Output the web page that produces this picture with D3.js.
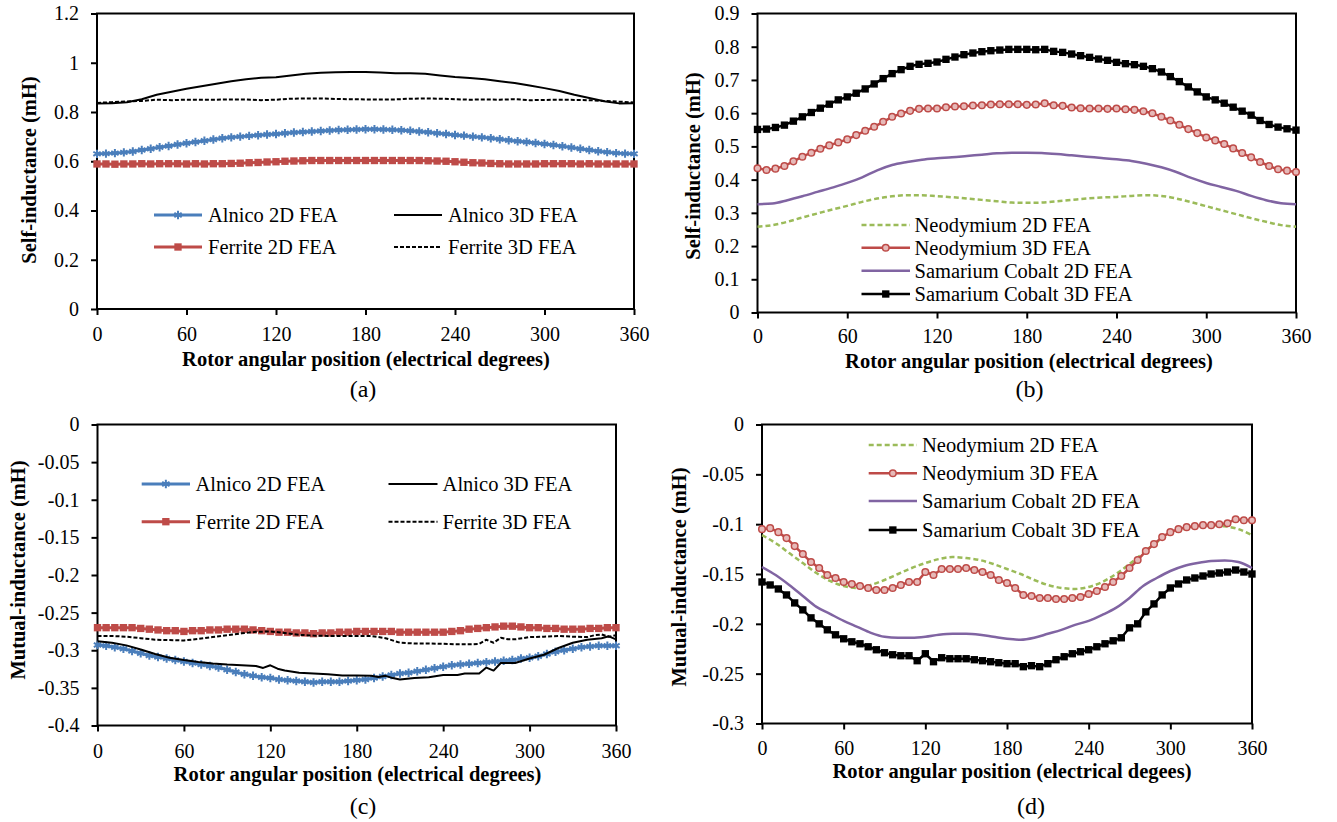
<!DOCTYPE html>
<html><head><meta charset="utf-8">
<script src="https://cdn.jsdelivr.net/npm/d3@7"></script>
<style>body{margin:0;background:#fff} svg{display:block} svg text{font-family:"Liberation Serif","Times New Roman",serif}</style>
</head><body><svg id="c" width="1337" height="822"></svg>
<script>
// ---------- DATA ----------
const angles6 = d3.range(0, 361, 6);
const angles10 = d3.range(0, 361, 10);
const xTicks = [0, 60, 120, 180, 240, 300, 360];
const xTickLabels = ["0", "60", "120", "180", "240", "300", "360"];

// (a) self-inductance, Alnico / Ferrite
const aAlnico2D = [0.630,0.631,0.633,0.636,0.640,0.646,0.651,0.657,0.662,0.668,
0.673,0.678,0.683,0.688,0.693,0.697,0.700,0.703,0.706,0.709,
0.711,0.714,0.717,0.719,0.721,0.723,0.725,0.727,0.728,0.729,
0.730,0.730,0.729,0.728,0.726,0.724,0.721,0.718,0.714,0.711,
0.707,0.704,0.700,0.697,0.693,0.689,0.685,0.681,0.678,0.674,
0.670,0.666,0.661,0.656,0.651,0.646,0.641,0.637,0.633,0.631,0.630];
const aFerrite2D = [0.589,0.589,0.588,0.589,0.589,0.590,0.589,0.590,0.590,0.590,
0.589,0.590,0.589,0.590,0.590,0.591,0.592,0.594,0.595,0.597,
0.598,0.600,0.601,0.602,0.603,0.603,0.603,0.603,0.603,0.603,
0.603,0.603,0.603,0.603,0.603,0.603,0.603,0.602,0.601,0.600,
0.598,0.596,0.594,0.593,0.591,0.590,0.589,0.589,0.589,0.589,
0.590,0.590,0.590,0.590,0.589,0.590,0.589,0.589,0.589,0.589,0.589];
const aAlnico3D = [0.835,0.836,0.840,0.852,0.870,0.882,0.894,0.905,0.915,0.925,0.933,0.939,0.941,
0.948,0.955,0.959,0.961,0.962,0.962,0.960,0.957,0.957,0.955,0.948,0.942,0.938,0.933,0.925,0.918,
0.908,0.897,0.885,0.870,0.857,0.844,0.835,0.836];
const aFerrite3D = [0.837,0.840,0.843,0.845,0.850,0.848,0.850,0.850,0.850,0.851,0.851,0.848,0.850,
0.854,0.855,0.855,0.853,0.852,0.851,0.851,0.851,0.854,0.855,0.854,0.852,0.850,0.851,0.850,0.852,
0.848,0.849,0.850,0.849,0.848,0.845,0.842,0.839];
const aYTicks = [0, 0.2, 0.4, 0.6, 0.8, 1, 1.2];
const aYTickLabels = ["0", "0.2", "0.4", "0.6", "0.8", "1", "1.2"];

// (b) self-inductance, Neodymium / Samarium Cobalt
const bNd2D = [0.258,0.263,0.273,0.286,0.298,0.310,0.321,0.333,0.343,0.350,0.353,0.353,0.350,
0.347,0.343,0.339,0.335,0.331,0.330,0.331,0.335,0.339,0.343,0.346,0.348,0.351,0.353,0.351,0.343,
0.332,0.320,0.308,0.296,0.284,0.273,0.263,0.258];
const bNd3D = [0.434,0.429,0.433,0.441,0.455,0.469,0.481,0.493,0.503,0.512,
0.521,0.534,0.547,0.559,0.574,0.589,0.599,0.607,0.613,0.614,
0.614,0.618,0.620,0.621,0.623,0.624,0.626,0.627,0.627,0.627,
0.625,0.626,0.630,0.624,0.622,0.617,0.615,0.614,0.614,0.613,
0.614,0.612,0.610,0.606,0.600,0.589,0.578,0.565,0.552,0.540,
0.527,0.518,0.507,0.494,0.480,0.467,0.453,0.441,0.431,0.427,0.423];
const bSmCo2D = [0.326,0.328,0.338,0.350,0.363,0.376,0.390,0.407,0.428,0.444,0.453,0.460,0.464,
0.467,0.471,0.475,0.479,0.481,0.481,0.480,0.477,0.473,0.469,0.465,0.461,0.456,0.448,0.437,0.423,
0.405,0.390,0.378,0.366,0.351,0.338,0.329,0.326];
const bSmCo3D = [0.551,0.552,0.557,0.564,0.576,0.589,0.602,0.615,0.627,0.640,
0.649,0.660,0.673,0.688,0.704,0.719,0.731,0.741,0.747,0.750,
0.754,0.762,0.769,0.776,0.781,0.785,0.788,0.790,0.792,0.792,
0.792,0.791,0.792,0.786,0.783,0.778,0.773,0.768,0.763,0.759,
0.753,0.749,0.746,0.741,0.734,0.724,0.710,0.695,0.679,0.664,
0.649,0.640,0.630,0.618,0.606,0.594,0.578,0.566,0.558,0.553,0.549];
const bYTicks = [0, 0.1, 0.2, 0.3, 0.4, 0.5, 0.6, 0.7, 0.8, 0.9];
const bYTickLabels = ["0", "0.1", "0.2", "0.3", "0.4", "0.5", "0.6", "0.7", "0.8", "0.9"];

// (c) mutual-inductance, Alnico / Ferrite
const cAlnico2D = [-0.293,-0.294,-0.296,-0.298,-0.301,-0.304,-0.307,-0.309,-0.311,-0.313,
-0.315,-0.317,-0.319,-0.321,-0.323,-0.326,-0.329,-0.332,-0.334,-0.336,
-0.337,-0.339,-0.340,-0.341,-0.342,-0.343,-0.342,-0.342,-0.342,-0.341,
-0.340,-0.339,-0.337,-0.335,-0.333,-0.331,-0.330,-0.328,-0.326,-0.324,
-0.322,-0.320,-0.319,-0.318,-0.317,-0.316,-0.315,-0.314,-0.313,-0.311,
-0.310,-0.308,-0.305,-0.302,-0.300,-0.298,-0.296,-0.295,-0.294,-0.294,-0.294];
const cAlnico3DX = [0,10,20,30,40,50,60,70,80,90,100,110,115,120,125,130,140,150,160,170,
180,190,195,200,205,210,220,230,240,250,255,265,270,275,280,290,300,310,320,330,340,350,355,360];
const cAlnico3D = [-0.288,-0.290,-0.2935,-0.299,-0.305,-0.310,-0.313,-0.3155,-0.3175,-0.319,
-0.320,-0.321,-0.3235,-0.320,-0.3245,-0.327,-0.330,-0.331,-0.332,-0.3335,
-0.3335,-0.334,-0.3355,-0.334,-0.337,-0.339,-0.337,-0.336,-0.333,-0.333,
-0.331,-0.331,-0.323,-0.327,-0.317,-0.317,-0.311,-0.306,-0.297,-0.290,
-0.286,-0.284,-0.2815,-0.2855];
const cFerrite2D = [-0.270,-0.270,-0.270,-0.270,-0.270,-0.271,-0.272,-0.273,-0.274,-0.274,
-0.275,-0.274,-0.274,-0.273,-0.273,-0.272,-0.272,-0.272,-0.273,-0.274,
-0.275,-0.276,-0.276,-0.277,-0.277,-0.278,-0.277,-0.277,-0.276,-0.276,
-0.275,-0.275,-0.275,-0.275,-0.275,-0.276,-0.276,-0.276,-0.276,-0.276,
-0.276,-0.275,-0.274,-0.272,-0.271,-0.270,-0.269,-0.268,-0.268,-0.269,
-0.270,-0.270,-0.271,-0.271,-0.272,-0.272,-0.272,-0.271,-0.271,-0.270,-0.270];
const cFerrite3DX = [0,10,20,30,40,50,60,70,80,90,100,110,120,130,140,150,160,170,180,190,200,
210,220,230,240,250,260,265,270,275,280,285,290,300,310,320,330,340,345,350,355,360];
const cFerrite3D = [-0.281,-0.281,-0.282,-0.284,-0.286,-0.2865,-0.287,-0.285,-0.2825,-0.280,
-0.2775,-0.2755,-0.275,-0.277,-0.2795,-0.2805,-0.281,-0.281,-0.281,-0.281,-0.284,
-0.290,-0.291,-0.291,-0.2915,-0.292,-0.292,-0.2915,-0.286,-0.290,-0.2835,-0.2855,-0.2855,
-0.2825,-0.282,-0.281,-0.282,-0.2825,-0.280,-0.279,-0.282,-0.280];
const cYTicks = [0, -0.05, -0.1, -0.15, -0.2, -0.25, -0.3, -0.35, -0.4];
const cYTickLabels = ["0", "-0.05", "-0.1", "-0.15", "-0.2", "-0.25", "-0.3", "-0.35", "-0.4"];

// (d) mutual-inductance, Neodymium / Samarium Cobalt
const dNd2D = [-0.111,-0.119,-0.129,-0.139,-0.149,-0.157,-0.162,-0.164,-0.161,-0.156,-0.150,
-0.144,-0.139,-0.135,-0.133,-0.134,-0.136,-0.140,-0.145,-0.150,-0.156,-0.161,-0.164,-0.165,
-0.163,-0.158,-0.150,-0.140,-0.129,-0.118,-0.110,-0.105,-0.102,-0.101,-0.102,-0.105,-0.111];
const dNd3D = [-0.105,-0.104,-0.108,-0.114,-0.122,-0.130,-0.138,-0.144,-0.151,-0.154,
-0.158,-0.160,-0.162,-0.164,-0.166,-0.166,-0.164,-0.161,-0.158,-0.158,
-0.148,-0.151,-0.145,-0.145,-0.145,-0.144,-0.146,-0.148,-0.151,-0.156,
-0.159,-0.164,-0.171,-0.172,-0.174,-0.174,-0.175,-0.175,-0.174,-0.173,
-0.170,-0.167,-0.163,-0.158,-0.152,-0.144,-0.136,-0.127,-0.120,-0.113,
-0.108,-0.105,-0.103,-0.102,-0.101,-0.101,-0.100,-0.099,-0.095,-0.096,-0.096];
const dSmCo2D = [-0.143,-0.151,-0.161,-0.172,-0.183,-0.190,-0.197,-0.203,-0.209,-0.213,-0.214,
-0.214,-0.213,-0.211,-0.210,-0.210,-0.211,-0.213,-0.215,-0.216,-0.214,-0.210,-0.206,-0.201,
-0.197,-0.191,-0.184,-0.174,-0.162,-0.154,-0.147,-0.142,-0.139,-0.137,-0.1365,-0.138,-0.144];
const dSmCo3D = [-0.158,-0.161,-0.165,-0.171,-0.179,-0.186,-0.194,-0.200,-0.206,-0.211,
-0.215,-0.218,-0.220,-0.223,-0.226,-0.229,-0.231,-0.232,-0.232,-0.237,
-0.230,-0.238,-0.234,-0.235,-0.235,-0.235,-0.236,-0.237,-0.238,-0.239,
-0.240,-0.240,-0.243,-0.242,-0.243,-0.240,-0.236,-0.233,-0.230,-0.228,
-0.226,-0.223,-0.220,-0.217,-0.214,-0.204,-0.200,-0.188,-0.180,-0.171,
-0.164,-0.160,-0.156,-0.154,-0.152,-0.150,-0.149,-0.148,-0.146,-0.148,-0.150];
const dYTicks = [0, -0.05, -0.1, -0.15, -0.2, -0.25, -0.3];
const dYTickLabels = ["0", "-0.05", "-0.1", "-0.15", "-0.2", "-0.25", "-0.3"];

// ---------- STYLES ----------
const FONT = '"Liberation Serif","Times New Roman",serif';
const STYLES = {
  alnico2D: {color: "#4A7EBB", width: 3, marker: "asterisk"},
  ferrite2D: {color: "#BE4B48", width: 3, marker: "square", mfill: "#BE4B48"},
  alnico3D: {color: "#000", width: 2},
  ferrite3D: {color: "#000", width: 2, dash: "4,2"},
  nd2D: {color: "#9BBB59", width: 2.5, dash: "5,3", curve: d3.curveMonotoneX},
  nd3D: {color: "#BE4B48", width: 2.5, marker: "circle", mfill: "#E6B9B8"},
  smco2D: {color: "#8064A2", width: 2.5, curve: d3.curveMonotoneX},
  smco3D: {color: "#000", width: 2.5, marker: "square", mfill: "#000"}
};

// ---------- LAYOUT ----------
const panels = [
  {left: 97, right: 634, top: 13.5, bottom: 309, yDomain: [0, 1.2], yTicks: aYTicks, yTickLabels: aYTickLabels,
   xLabelY: 31.5, yTitle: "Self-inductance (mH)", yTitleX: 29, yTitleY: 170,
   xTitle: "Rotor angular position (electrical degrees)", xTitleX: 366, xTitleY: 366,
   tag: "(a)", tagX: 363, tagY: 397,
   series: [
     {name: "Alnico 2D FEA", style: "alnico2D", x: angles6, y: aAlnico2D, lx1: 154, lx2: 202, tx: 208, ly: 215},
     {name: "Alnico 3D FEA", style: "alnico3D", x: angles10, y: aAlnico3D, lx1: 394, lx2: 442, tx: 448, ly: 215},
     {name: "Ferrite 2D FEA", style: "ferrite2D", x: angles6, y: aFerrite2D, lx1: 154, lx2: 202, tx: 208, ly: 247},
     {name: "Ferrite 3D FEA", style: "ferrite3D", x: angles10, y: aFerrite3D, lx1: 394, lx2: 442, tx: 448, ly: 247}
   ]},
  {left: 757.5, right: 1296, top: 13.5, bottom: 312.5, yDomain: [0, 0.9], yTicks: bYTicks, yTickLabels: bYTickLabels,
   xLabelY: 30.5, yTitle: "Self-inductance (mH)", yTitleX: 693, yTitleY: 166,
   xTitle: "Rotor angular position (electrical degrees)", xTitleX: 1029, xTitleY: 368,
   tag: "(b)", tagX: 1029.5, tagY: 397,
   series: [
     {name: "Neodymium 2D FEA", style: "nd2D", x: angles10, y: bNd2D, lx1: 861.5, lx2: 910, tx: 914.5, ly: 225},
     {name: "Neodymium 3D FEA", style: "nd3D", x: angles6, y: bNd3D, lx1: 861.5, lx2: 910, tx: 914.5, ly: 247.7},
     {name: "Samarium Cobalt 2D FEA", style: "smco2D", x: angles10, y: bSmCo2D, lx1: 861.5, lx2: 910, tx: 914.5, ly: 270.7},
     {name: "Samarium Cobalt 3D FEA", style: "smco3D", x: angles6, y: bSmCo3D, lx1: 861.5, lx2: 910, tx: 914.5, ly: 294}
   ]},
  {left: 97.5, right: 616, top: 424.5, bottom: 725.5, yDomain: [-0.4, 0], yTicks: cYTicks, yTickLabels: cYTickLabels,
   xLabelY: 32.5, yTitle: "Mutual-inductance (mH)", yTitleX: 18, yTitleY: 570,
   xTitle: "Rotor angular position (electrical degrees)", xTitleX: 357.5, xTitleY: 780.5,
   tag: "(c)", tagX: 363, tagY: 814,
   series: [
     {name: "Alnico 2D FEA", style: "alnico2D", x: angles6, y: cAlnico2D, lx1: 141.7, lx2: 190, tx: 195.5, ly: 484},
     {name: "Alnico 3D FEA", style: "alnico3D", x: cAlnico3DX, y: cAlnico3D, lx1: 388.5, lx2: 437.5, tx: 442.6, ly: 484},
     {name: "Ferrite 2D FEA", style: "ferrite2D", x: angles6, y: cFerrite2D, lx1: 141.7, lx2: 190, tx: 195.5, ly: 521.7},
     {name: "Ferrite 3D FEA", style: "ferrite3D", x: cFerrite3DX, y: cFerrite3D, lx1: 388.5, lx2: 437.5, tx: 442.6, ly: 521.7}
   ]},
  {left: 762, right: 1252, top: 424.5, bottom: 723.5, yDomain: [-0.3, 0], yTicks: dYTicks, yTickLabels: dYTickLabels,
   xLabelY: 31, yTitle: "Mutual-inductance (mH)", yTitleX: 678.5, yTitleY: 577,
   xTitle: "Rotor angular position (electrical degees)", xTitleX: 1012, xTitleY: 778.3,
   tag: "(d)", tagX: 1031, tagY: 814,
   series: [
     {name: "Neodymium 2D FEA", style: "nd2D", x: angles10, y: dNd2D, lx1: 868.7, lx2: 917, tx: 922, ly: 445},
     {name: "Neodymium 3D FEA", style: "nd3D", x: angles6, y: dNd3D, lx1: 868.7, lx2: 917, tx: 922, ly: 473.3},
     {name: "Samarium Cobalt 2D FEA", style: "smco2D", x: angles10, y: dSmCo2D, lx1: 868.7, lx2: 917, tx: 922, ly: 501},
     {name: "Samarium Cobalt 3D FEA", style: "smco3D", x: angles6, y: dSmCo3D, lx1: 868.7, lx2: 917, tx: 922, ly: 530}
   ]}
];

// ---------- DRAW ----------
const svg = d3.select("#c");

function markerPath(type) {
  if (type === "asterisk") return d3.symbol(d3.symbolAsterisk, 50)();
  if (type === "square") return d3.symbol(d3.symbolSquare, 54)();
  if (type === "circle") return d3.symbol(d3.symbolCircle, 34)();
  return null;
}
function styleMarker(sel, st) {
  if (st.marker === "asterisk") {
    sel.attr("fill", "none").attr("stroke", st.color).attr("stroke-width", 2);
  } else if (st.marker === "circle") {
    sel.attr("fill", st.mfill).attr("stroke", st.color).attr("stroke-width", 1.5);
  } else {
    sel.attr("fill", st.mfill).attr("stroke", "none");
  }
}

panels.forEach(p => {
  const x = d3.scaleLinear().domain([0, 360]).range([p.left, p.right]);
  const y = d3.scaleLinear().domain(p.yDomain).range([p.bottom, p.top]);
  const g = svg.append("g");

  // y axis
  const yg = g.append("g").attr("transform", `translate(${p.left},0)`)
    .call(d3.axisLeft(y).tickValues(p.yTicks).tickFormat((d, i) => p.yTickLabels[i])
      .tickSize(6).tickPadding(12).tickSizeOuter(0));
  yg.select(".domain").remove();
  yg.attr("font-family", FONT).attr("font-size", 20);
  yg.selectAll("line").attr("stroke", "#000").attr("stroke-width", 2);
  yg.selectAll("text").attr("fill", "#000");

  // x axis
  const xg = g.append("g").attr("transform", `translate(0,${p.bottom})`)
    .call(d3.axisBottom(x).tickValues(xTicks).tickFormat((d, i) => xTickLabels[i])
      .tickSize(6).tickSizeOuter(0));
  xg.select(".domain").remove();
  xg.attr("font-family", FONT).attr("font-size", 20);
  xg.selectAll("line").attr("stroke", "#000").attr("stroke-width", 2);
  xg.selectAll("text").attr("fill", "#000").attr("y", p.xLabelY).attr("dy", null);

  // frame
  g.append("rect").attr("x", p.left).attr("y", p.top)
    .attr("width", p.right - p.left).attr("height", p.bottom - p.top)
    .attr("fill", "none").attr("stroke", "#000").attr("stroke-width", 2);

  // titles
  g.append("text").attr("x", p.xTitleX).attr("y", p.xTitleY).attr("text-anchor", "middle")
    .attr("font-family", FONT).attr("font-size", 20.5).attr("font-weight", "bold").text(p.xTitle);
  g.append("text").attr("transform", `translate(${p.yTitleX},${p.yTitleY}) rotate(-90)`)
    .attr("text-anchor", "middle").attr("dy", "0.35em")
    .attr("font-family", FONT).attr("font-size", 20.5).attr("font-weight", "bold").text(p.yTitle);
  g.append("text").attr("x", p.tagX).attr("y", p.tagY).attr("text-anchor", "middle")
    .attr("font-family", FONT).attr("font-size", 24).text(p.tag);

  // series
  p.series.forEach(s => {
    const st = STYLES[s.style];
    const line = d3.line().x((d, i) => x(s.x[i])).y(d => y(d)).curve(st.curve || d3.curveLinear);
    g.append("path").datum(s.y).attr("d", line).attr("fill", "none")
      .attr("stroke", st.color).attr("stroke-width", st.width)
      .attr("stroke-dasharray", st.dash || null).attr("stroke-linejoin", "round");
    if (st.marker) {
      const mk = g.append("g").selectAll("path").data(s.y).enter().append("path")
        .attr("transform", (d, i) => `translate(${x(s.x[i])},${y(d)})`)
        .attr("d", markerPath(st.marker));
      styleMarker(mk, st);
    }
    // legend entry
    g.append("line").attr("x1", s.lx1).attr("x2", s.lx2).attr("y1", s.ly).attr("y2", s.ly)
      .attr("stroke", st.color).attr("stroke-width", st.width).attr("stroke-dasharray", st.dash || null);
    if (st.marker) {
      const lm = g.append("path").attr("transform", `translate(${(s.lx1 + s.lx2) / 2},${s.ly})`)
        .attr("d", markerPath(st.marker));
      styleMarker(lm, st);
    }
    g.append("text").attr("x", s.tx).attr("y", s.ly).attr("dy", "0.35em")
      .attr("font-family", FONT).attr("font-size", 20.5).text(s.name);
  });
});
</script>
</body></html>
